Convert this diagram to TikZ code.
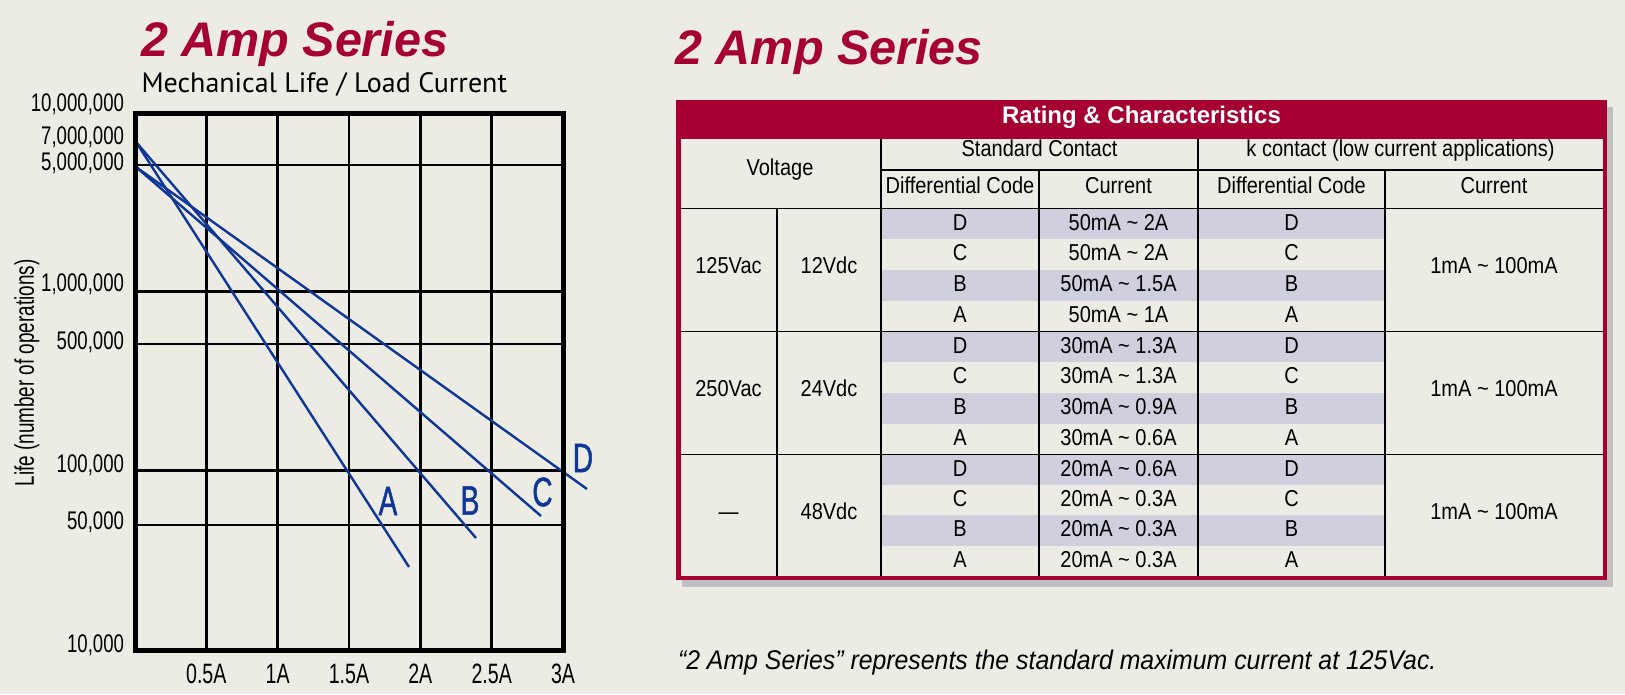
\documentclass[tikz,border=0pt]{standalone}
\usepackage{fontspec}
\setmainfont{Liberation Sans}
\newfontfamily\cond[FakeStretch=0.7]{Liberation Sans}
\newfontfamily\condy[FakeStretch=0.73]{Liberation Sans}
\newfontfamily\condmed[FakeStretch=0.68,FakeBold=1.2]{Liberation Sans}
\newfontfamily\tabfont[FakeStretch=0.87]{Liberation Sans}
\newfontfamily\footfont[FakeStretch=0.92]{Liberation Sans}
\newfontfamily\subfont{PT Sans}
\newcommand{\fsz}[1]{\fontsize{#1}{#1}\selectfont}
\newcommand{\tld}{\textasciitilde}
\definecolor{bgc}{RGB}{236,235,228}
\definecolor{amp}{RGB}{166,0,50}
\definecolor{rowshade}{RGB}{207,207,221}
\definecolor{curve}{RGB}{15,55,150}
\definecolor{shadowc}{RGB}{192,192,192}
\begin{document}
\begin{tikzpicture}[x=1pt,y=-1pt,
  txt/.style={inner sep=0pt,outer sep=0pt},
  title/.style={txt,anchor=base west,text=amp,font=\fsz{48.5}\bfseries\itshape},
  ylab/.style={txt,anchor=base east,font=\condy\fsz{25.5}},
  xlab/.style={txt,anchor=base,font=\cond\fsz{28}},
  curvelab/.style={txt,anchor=center,text=curve,font=\condmed\fsz{41}},
  gridline/.style={line width=2.6pt,black},
  framebox/.style={line width=5pt,black,line join=miter},
  curveline/.style={line width=2.4pt,curve},
  tline/.style={line width=1.8pt,black},
  cell/.style={txt,anchor=base,font=\tabfont\fsz{23}},
]
\useasboundingbox (0,0) rectangle (1625,694);
\fill[bgc] (0,0) rectangle (1625,694);

% ---------------- left chart ----------------
\node[title] (ltitle) at (141,56.7) {2 Amp Series};
\node[txt,anchor=base west,font=\subfont\fsz{28}] (subt) at (141.5,92.7) {Mechanical Life / Load Current};

\foreach \x in {206.3,277.7,349,420.3,491.7}
  \draw[gridline] (\x,113) -- (\x,650);
\foreach \y in {165,291.7,344,470.7,525}
  \draw[gridline] (135,\y) -- (563,\y);

\coordinate (up) at (136,142);
\coordinate (lo) at (136,167);
\coordinate (endA) at (409,567);
\coordinate (endB) at (476,538);
\coordinate (endC) at (541,516);
\coordinate (endD) at (587,489);
\draw[curveline] (up) -- (endA);
\draw[curveline] (up) -- (endB);
\draw[curveline] (lo) -- (endC);
\draw[curveline] (lo) -- (endD);

\draw[framebox] (135,113) rectangle (563,650);

\node[curvelab] (labA) at (388,501) {A};
\node[curvelab] (labB) at (470,500.5) {B};
\node[curvelab] (labC) at (542.5,492) {C};
\node[curvelab] (labD) at (583,458) {D};

\node[ylab] (y1) at (124,111.7) {10,000,000};
\node[ylab] (y2) at (124,144) {7,000,000};
\node[ylab] (y3) at (124,170) {5,000,000};
\node[ylab] (y4) at (124,291.7) {1,000,000};
\node[ylab] (y5) at (124,349) {500,000};
\node[ylab] (y6) at (124,472.7) {100,000};
\node[ylab] (y7) at (124,529) {50,000};
\node[ylab] (y8) at (124,652.7) {10,000};

\node[xlab] (x1) at (206.3,683.3) {0.5A};
\node[xlab] (x2) at (277.7,683.3) {1A};
\node[xlab] (x3) at (349,683.3) {1.5A};
\node[xlab] (x4) at (420.3,683.3) {2A};
\node[xlab] (x5) at (491.7,683.3) {2.5A};
\node[xlab] (x6) at (563,683.3) {3A};

\node[txt,rotate=90,font=\cond\fsz{27}] (ytitle) at (27,373) {Life (number of operations)};

% ---------------- right table ----------------
\node[title] (rtitle) at (675.5,64) {2 Amp Series};

\fill[shadowc] (682,107) rectangle (1613,587);
\fill[amp] (676,100) rectangle (1607,580);
\fill[bgc] (680.5,138.5) rectangle (1603,576);

\node[txt,anchor=base,text=white,font=\fsz{24}\bfseries] (hdr) at (1141.5,123.3) {Rating \& Characteristics};

\foreach \t/\h/\va/\vd/\lo/\cd/\cc/\cb/\ca [count=\g] in
  {208.5/30.75/125Vac/12Vdc/50mA/2A/2A/1.5A/1A,
   331.5/30.75/250Vac/24Vdc/30mA/1.3A/1.3A/0.9A/0.6A,
   454.5/30.375/—/48Vdc/20mA/0.6A/0.3A/0.3A/0.3A}{
  \fill[rowshade] (881,\t) rectangle (1385,\t+\h);
  \fill[rowshade] (881,\t+2*\h) rectangle (1385,\t+3*\h);
  \node[cell] (va\g) at (728.5,\t+64.5) {\va};
  \node[cell] (vd\g) at (829,\t+64.5) {\vd};
  \node[cell] (kc\g) at (1494,\t+64.5) {1mA \tld{} 100mA};
  \node[cell] (sdD\g) at (960,\t+21.5) {D};
  \node[cell] (sdC\g) at (960,\t+\h+21.5) {C};
  \node[cell] (sdB\g) at (960,\t+2*\h+21.5) {B};
  \node[cell] (sdA\g) at (960,\t+3*\h+21.5) {A};
  \node[cell] (scD\g) at (1118.5,\t+21.5) {\lo{} \tld{} \cd};
  \node[cell] (scC\g) at (1118.5,\t+\h+21.5) {\lo{} \tld{} \cc};
  \node[cell] (scB\g) at (1118.5,\t+2*\h+21.5) {\lo{} \tld{} \cb};
  \node[cell] (scA\g) at (1118.5,\t+3*\h+21.5) {\lo{} \tld{} \ca};
  \node[cell] (kdD\g) at (1291.5,\t+21.5) {D};
  \node[cell] (kdC\g) at (1291.5,\t+\h+21.5) {C};
  \node[cell] (kdB\g) at (1291.5,\t+2*\h+21.5) {B};
  \node[cell] (kdA\g) at (1291.5,\t+3*\h+21.5) {A};
}

\draw[tline] (881,170) -- (1603,170);
\foreach \y in {208.5,331.5,454.5}
  \draw[tline] (680.5,\y) -- (1603,\y);
\draw[tline] (777,208.5) -- (777,576);
\draw[tline] (881,138.5) -- (881,576);
\draw[tline] (1039,170) -- (1039,576);
\draw[tline] (1198,138.5) -- (1198,576);
\draw[tline] (1385,170) -- (1385,576);

\node[cell] (volt) at (780,175) {Voltage};
\node[cell] (std) at (1039.5,156) {Standard Contact};
\node[cell] (kct) at (1400.5,156) {k contact (low current applications)};
\node[cell] (dc1) at (960,193.3) {Differential Code};
\node[cell] (cu1) at (1118.5,193.3) {Current};
\node[cell] (dc2) at (1291.5,193.3) {Differential Code};
\node[cell] (cu2) at (1494,193.3) {Current};

\node[txt,anchor=base west,font=\footfont\itshape\fsz{27}] (note) at (678,669.3) {“2 Amp Series” represents the standard maximum current at 125Vac.};
\end{tikzpicture}
\end{document}
